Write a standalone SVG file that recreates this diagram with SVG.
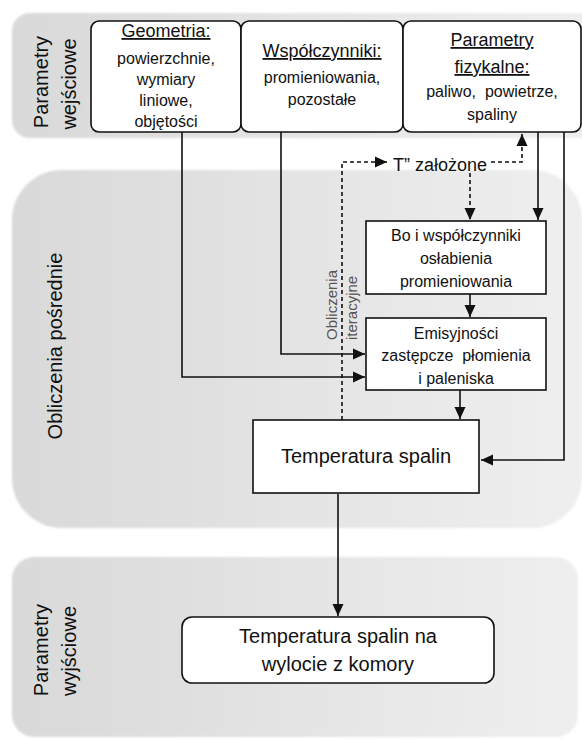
<svg xmlns="http://www.w3.org/2000/svg" width="582" height="740" viewBox="0 0 582 740">
<style>
  .panel { fill: url(#pg); filter: url(#soft); }
  .box { fill: #fff; stroke: #111; stroke-width: 1.6; }
  .t { font-family: "Liberation Sans", Arial, sans-serif; fill: #111; text-anchor: middle; }
  .b16 { font-size: 16px; }
  .h18 { font-size: 18px; text-decoration: underline; }
  .lab { font-family: "Liberation Sans", Arial, sans-serif; font-size: 20px; fill: #111; text-anchor: middle; }
  .it { font-family: "Liberation Sans", Arial, sans-serif; font-size: 15px; fill: #555; }
  .ln { fill: none; stroke: #111; stroke-width: 1.6; }
  .ds { fill: none; stroke: #111; stroke-width: 1.6; stroke-dasharray: 4 3; }
</style>
<defs>
  <linearGradient id="pg" x1="0" y1="0" x2="1" y2="0">
    <stop offset="0" stop-color="#d9d9d9"/>
    <stop offset="1" stop-color="#efefef"/>
  </linearGradient>
  <filter id="soft" x="-5%" y="-5%" width="110%" height="110%">
    <feGaussianBlur stdDeviation="1.2"/>
  </filter>
  <marker id="ah" markerUnits="userSpaceOnUse" markerWidth="12" markerHeight="12" viewBox="0 0 12 12" refX="12" refY="6" orient="auto">
    <path d="M0,0.5 L12,6 L0,11.5 Z" fill="#111"/>
  </marker>
</defs>

<g id="panels">
  <rect class="panel" x="12" y="13" width="590" height="125" rx="18"/>
  <rect class="panel" x="12" y="170" width="570" height="358" rx="50"/>
  <rect class="panel" x="12" y="557" width="566" height="180" rx="22"/>
</g>

<g id="panel-labels">
  <text class="lab" transform="translate(48,82) rotate(-90)">Parametry</text>
  <text class="lab" transform="translate(76,84) rotate(-90)">wejściowe</text>
  <text class="lab" transform="translate(62,346) rotate(-90)">Obliczenia pośrednie</text>
  <text class="lab" transform="translate(48,650) rotate(-90)">Parametry</text>
  <text class="lab" transform="translate(76,651) rotate(-90)">wyjściowe</text>
</g>

<g id="connectors">
  <polyline class="ln" points="182,132 182,377 365,377" marker-end="url(#ah)"/>
  <polyline class="ln" points="281,132 281,354 365,354" marker-end="url(#ah)"/>
  <line class="ln" x1="538" y1="132" x2="538" y2="220" marker-end="url(#ah)"/>
  <polyline class="ln" points="564,132 564,460 481,460" marker-end="url(#ah)"/>
  <line class="ln" x1="470" y1="294" x2="470" y2="317" marker-end="url(#ah)"/>
  <line class="ln" x1="460" y1="390" x2="460" y2="419" marker-end="url(#ah)"/>
  <line class="ln" x1="338" y1="494" x2="338" y2="616" marker-end="url(#ah)"/>
  <polyline class="ds" points="342,420 342,162 387,162" marker-end="url(#ah)"/>
  <polyline class="ds" points="491,162 522,162 522,134" marker-end="url(#ah)"/>
  <line class="ds" x1="470" y1="173" x2="470" y2="220" marker-end="url(#ah)"/>
</g>

<g id="geometria">
  <rect class="box" x="91" y="21" width="150" height="111" rx="8"/>
  <text class="t h18" x="166" y="37">Geometria:</text>
  <text class="t b16" x="166" y="64">powierzchnie,</text>
  <text class="t b16" x="166" y="85">wymiary</text>
  <text class="t b16" x="166" y="106">liniowe,</text>
  <text class="t b16" x="166" y="127">objętości</text>
</g>

<g id="wspolczynniki">
  <rect class="box" x="241" y="21" width="162" height="111" rx="8"/>
  <text class="t h18" x="322" y="57">Współczynniki:</text>
  <text class="t b16" x="322" y="83">promieniowania,</text>
  <text class="t b16" x="322" y="105">pozostałe</text>
</g>

<g id="parametry-fizykalne">
  <rect class="box" x="403" y="21" width="178" height="111" rx="8"/>
  <text class="t h18" x="492" y="46">Parametry</text>
  <text class="t h18" x="492" y="73">fizykalne:</text>
  <text class="t b16" x="492" y="97" xml:space="preserve">paliwo,  powietrze,</text>
  <text class="t b16" x="492" y="120">spaliny</text>
</g>

<g id="t-zalozone">
  <text class="t" x="440" y="171" style="font-size:18px">T” założone</text>
</g>

<g id="iteracyjne">
  <text class="it" font-family="Liberation Sans, Arial, sans-serif" transform="translate(337,340) rotate(-90)">Obliczenia</text>
  <text class="it" font-family="Liberation Sans, Arial, sans-serif" transform="translate(357,340) rotate(-90)">iteracyjne</text>
</g>

<g id="bo">
  <rect class="box" x="366" y="221" width="180" height="73"/>
  <text class="t b16" x="456" y="241">Bo i współczynniki</text>
  <text class="t b16" x="456" y="264">osłabienia</text>
  <text class="t b16" x="456" y="287">promieniowania</text>
</g>

<g id="emisyjnosci">
  <rect class="box" x="366" y="318" width="180" height="72"/>
  <text class="t b16" x="456" y="339">Emisyjności</text>
  <text class="t b16" x="456" y="361" xml:space="preserve">zastępcze  płomienia</text>
  <text class="t b16" x="456" y="384">i paleniska</text>
</g>

<g id="temperatura">
  <rect class="box" x="253" y="420" width="226" height="73"/>
  <text class="t" x="366" y="463" style="font-size:20px">Temperatura spalin</text>
</g>

<g id="wylot">
  <rect class="box" x="182" y="617" width="312" height="66" rx="10"/>
  <text class="t" x="338" y="643" style="font-size:20px">Temperatura spalin na</text>
  <text class="t" x="338" y="671" style="font-size:20px">wylocie z komory</text>
</g>
</svg>
